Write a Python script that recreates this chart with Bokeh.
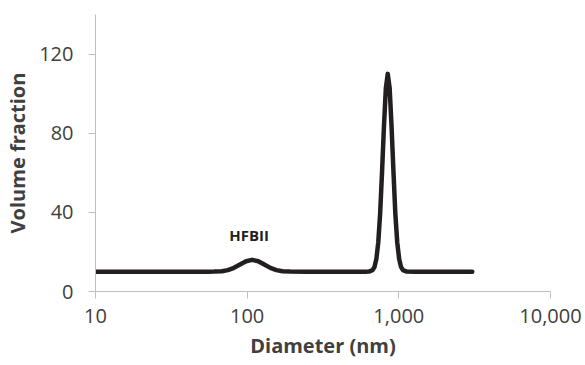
from bokeh.plotting import figure
from bokeh.models import FixedTicker, NumeralTickFormatter, Range1d
from bokeh.core.properties import value
from bokeh.embed import file_html
from bokeh.resources import INLINE

# Data (diameter in nm, volume fraction)
diameter = [10, 20, 40, 55, 60.7, 68.1, 74.6, 81.8, 89.7, 98.4, 107.9, 118.3, 129.7, 142.2,
            156, 171, 192, 250, 400, 600, 634, 671, 691, 711, 732, 753, 775, 798, 821, 845,
            870, 895, 922, 948, 976, 1005, 1034, 1064, 1127, 1300, 2000, 3050]
volume = [10, 10, 10, 10, 10.05, 10.26, 10.8, 11.95, 13.6, 15.3, 16, 15.3, 13.6, 11.95,
          10.8, 10.26, 10.05, 10, 10, 10, 10.05, 10.8, 12.4, 16.4, 24.9, 39.5, 60.3, 83.7, 102.7, 110,
          102.7, 83.7, 60.3, 39.5, 24.9, 16.4, 12.4, 10.8, 10.05, 10, 10, 10]
x_ticks = [10, 100, 1000, 10000]
y_ticks = [0, 40, 80, 120]
label_text = "HFBII"
label_x = 103
label_y = 28.5

FONT = "Open Sans"
AXIS_COLOR = "#bfbfbf"
TEXT_COLOR = "#404040"

p = figure(width=585, height=365, x_axis_type="log", output_backend="svg",
           toolbar_location=None, x_range=Range1d(10, 10000), y_range=Range1d(0, 140),
           min_border_left=95, min_border_right=35, min_border_top=14, min_border_bottom=74)
p.outline_line_color = None
p.xgrid.visible = False
p.ygrid.visible = False

p.line(diameter, volume, line_width=4.5, line_color="#231f20", line_join="round", line_cap="round")
p.text(x=[label_x], y=[label_y], text=[label_text], text_font=value(FONT), text_font_style="bold",
       text_font_size="15px", text_color="#231f20", text_align="center", text_baseline="middle")

for ax in (p.xaxis[0], p.yaxis[0]):
    ax.axis_line_color = AXIS_COLOR
    ax.major_tick_line_color = AXIS_COLOR
    ax.minor_tick_line_color = None
    ax.major_tick_out = 7
    ax.major_tick_in = 0
    ax.major_label_text_font = FONT
    ax.major_label_text_font_size = "20px"
    ax.major_label_text_color = TEXT_COLOR
    ax.axis_label_text_font = FONT
    ax.axis_label_text_font_style = "bold"
    ax.axis_label_text_font_size = "20px"
    ax.axis_label_text_color = TEXT_COLOR

p.xaxis[0].ticker = FixedTicker(ticks=x_ticks)
p.xaxis[0].formatter = NumeralTickFormatter(format="0,0")
p.xaxis[0].axis_label = "Diameter (nm)"
p.xaxis[0].major_label_standoff = 10
p.xaxis[0].axis_label_standoff = 6
p.yaxis[0].ticker = FixedTicker(ticks=y_ticks)
p.yaxis[0].axis_label = "Volume fraction"
p.yaxis[0].major_label_standoff = 15
p.yaxis[0].axis_label_standoff = 5

open("out.html", "w").write(file_html(p, INLINE))
